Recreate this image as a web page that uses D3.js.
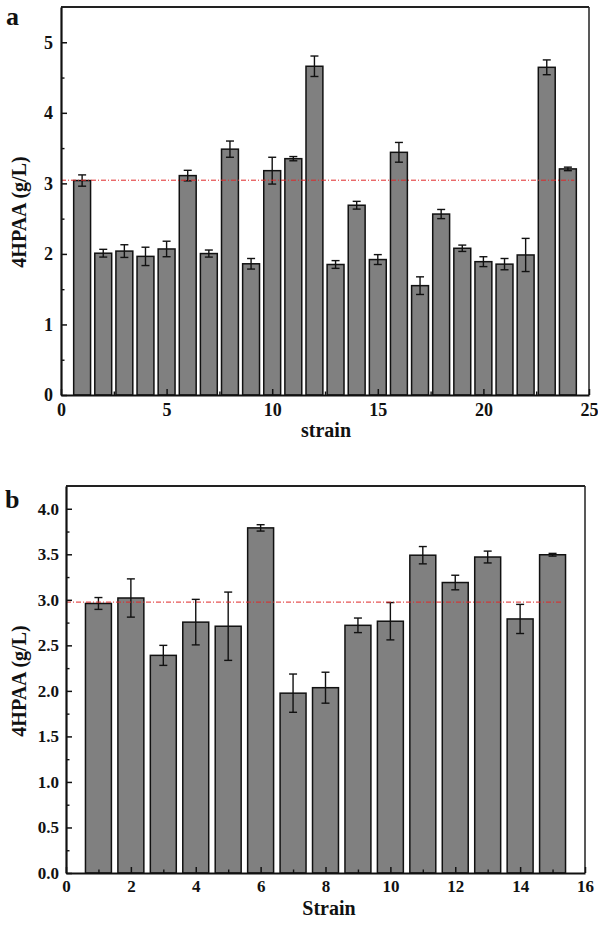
<!DOCTYPE html>
<html><head><meta charset="utf-8">
<script src="https://cdn.jsdelivr.net/npm/d3@7"></script>
<style>
html,body{margin:0;padding:0;background:#fff;}
svg{display:block;font-family:"Liberation Serif","Times New Roman",serif;font-weight:bold;}
</style></head>
<body>
<script>
// Panel a data
const strainsA = [1,2,3,4,5,6,7,8,9,10,11,12,13,14,15,16,17,18,19,20,21,22,23,24];
const valuesA = [3.04,2.01,2.04,1.965,2.07,3.11,2.005,3.485,1.86,3.18,3.35,4.66,1.85,2.69,1.92,3.44,1.55,2.565,2.08,1.89,1.855,1.985,4.645,3.205];
const errorsA = [0.08,0.055,0.09,0.13,0.11,0.075,0.05,0.115,0.075,0.19,0.03,0.145,0.055,0.055,0.07,0.14,0.125,0.065,0.045,0.07,0.08,0.235,0.105,0.025];
const refA = 3.045;
const xTicksA = [0,5,10,15,20,25];
const yTicksA = [0,1,2,3,4,5];

// Panel b data
const strainsB = [1,2,3,4,5,6,7,8,9,10,11,12,13,14,15];
const valuesB = [2.96,3.02,2.39,2.755,2.71,3.79,1.975,2.035,2.72,2.765,3.49,3.19,3.47,2.79,3.495];
const errorsB = [0.065,0.21,0.11,0.25,0.375,0.035,0.21,0.17,0.08,0.205,0.095,0.08,0.065,0.16,0.015];
const refB = 2.975;
const xTicksB = [0,2,4,6,8,10,12,14,16];
const yTicksB = [0,0.5,1.0,1.5,2.0,2.5,3.0,3.5,4.0];

const W = 598, H = 929;
const svg = d3.select("body").append("svg").attr("width", W).attr("height", H);

function panel(cfg) {
  const x = d3.scaleLinear().domain(cfg.xDomain).range([cfg.left, cfg.right]);
  const y = d3.scaleLinear().domain(cfg.yDomain).range([cfg.bottom, cfg.top]);
  const g = svg.append("g");
  const bw = x(0.8) - x(0);

  g.selectAll("rect.bar").data(cfg.strains).join("rect")
    .attr("class","bar")
    .attr("x", (d) => x(d) - bw/2)
    .attr("y", (d,i) => y(cfg.values[i]))
    .attr("width", bw)
    .attr("height", (d,i) => y(0) - y(cfg.values[i]))
    .attr("fill", "#808080")
    .attr("stroke", "#111")
    .attr("stroke-width", 1.5);

  const eg = g.append("g").attr("stroke","#111").attr("stroke-width",1.4);
  cfg.strains.forEach((s,i) => {
    const v = cfg.values[i], e = cfg.errors[i];
    const cx = x(s);
    eg.append("line").attr("x1",cx).attr("x2",cx).attr("y1",y(v+e)).attr("y2",y(v-e));
    eg.append("line").attr("x1",cx-4).attr("x2",cx+4).attr("y1",y(v+e)).attr("y2",y(v+e));
    eg.append("line").attr("x1",cx-4).attr("x2",cx+4).attr("y1",y(v-e)).attr("y2",y(v-e));
  });

  const lastS = cfg.strains[cfg.strains.length-1];
  g.append("line")
    .attr("x1", x(0)).attr("x2", x(lastS + 0.3))
    .attr("y1", y(cfg.ref)).attr("y2", y(cfg.ref))
    .attr("stroke", "#e02828").attr("stroke-width", 1)
    .attr("stroke-dasharray", "5,2,1,2");

  g.append("line").attr("x1",cfg.left).attr("x2",cfg.right).attr("y1",cfg.top).attr("y2",cfg.top)
    .attr("stroke","#222").attr("stroke-width",1.8);
  g.append("line").attr("x1",cfg.right).attr("x2",cfg.right).attr("y1",cfg.top).attr("y2",cfg.bottom)
    .attr("stroke","#222").attr("stroke-width",1.5);

  g.append("g").attr("transform",`translate(0,${cfg.bottom})`)
    .call(d3.axisBottom(x).tickValues(cfg.xMinor).tickSize(-3.5).tickFormat(""))
    .call(a => a.select(".domain").remove())
    .call(a => a.selectAll("line").attr("stroke","#111").attr("stroke-width",1.4));
  g.append("g").attr("transform",`translate(${cfg.left},0)`)
    .call(d3.axisLeft(y).tickValues(cfg.yMinor).tickSize(-3.5).tickFormat(""))
    .call(a => a.select(".domain").remove())
    .call(a => a.selectAll("line").attr("stroke","#111").attr("stroke-width",1.4));

  const xa = g.append("g").attr("transform",`translate(0,${cfg.bottom})`)
    .call(d3.axisBottom(x).tickValues(cfg.xTicks).tickSize(-6).tickPadding(cfg.xPad).tickSizeOuter(0)
      .tickFormat(d3.format("d")));
  const ya = g.append("g").attr("transform",`translate(${cfg.left},0)`)
    .call(d3.axisLeft(y).tickValues(cfg.yTicks).tickSize(-6).tickPadding(cfg.yPad).tickSizeOuter(0)
      .tickFormat(cfg.yFormat));
  [xa, ya].forEach(a => {
    a.attr("font-family", null).attr("font-size", null);
    a.select(".domain").attr("stroke","#111").attr("stroke-width",2.2);
    a.selectAll(".tick line").attr("stroke","#111").attr("stroke-width",1.5);
    a.selectAll("text").attr("fill","#111")
      .style("font-size", cfg.tickFont + "px")
      .style("font-family","'Liberation Serif', serif").style("font-weight","bold");
  });

  g.append("text").attr("x", cfg.xTitleX).attr("y", cfg.xTitleY)
    .attr("text-anchor","middle").style("font-size","20px").attr("fill","#111").text(cfg.xTitle);
  g.append("text").attr("transform",`translate(${cfg.yTitleX},${cfg.yTitleY}) rotate(-90)`)
    .attr("text-anchor","middle").style("font-size","20px").attr("fill","#111").text("4HPAA (g/L)");
  g.append("text").attr("x", cfg.labelX).attr("y", cfg.labelY)
    .style("font-size","26px").attr("fill","#111").text(cfg.label);
}

panel({
  strains: strainsA, values: valuesA, errors: errorsA, ref: refA,
  xDomain:[0,25], yDomain:[0,5.5],
  left:61, right:589, top:7, bottom:395,
  xTicks: xTicksA, yTicks: yTicksA,
  xMinor: [2.5,7.5,12.5,17.5,22.5], yMinor: [0.5,1.5,2.5,3.5,4.5],
  yFormat: d3.format("d"), yPad: 8, xPad: 8, tickFont: 18,
  xTitle: "strain", xTitleX: 326, xTitleY: 437,
  yTitleX: 26, yTitleY: 212, label: "a", labelX: 6, labelY: 25
});

panel({
  strains: strainsB, values: valuesB, errors: errorsB, ref: refB,
  xDomain:[0,16], yDomain:[0,4.25],
  left:66, right:585, top:486, bottom:873,
  xTicks: xTicksB, yTicks: yTicksB,
  xMinor: [1,3,5,7,9,11,13,15], yMinor: [0.25,0.75,1.25,1.75,2.25,2.75,3.25,3.75],
  yFormat: d3.format(".1f"), yPad: 7, xPad: 7, tickFont: 17,
  xTitle: "Strain", xTitleX: 329, xTitleY: 915,
  yTitleX: 26, yTitleY: 681, label: "b", labelX: 5, labelY: 508
});
</script>
</body></html>
